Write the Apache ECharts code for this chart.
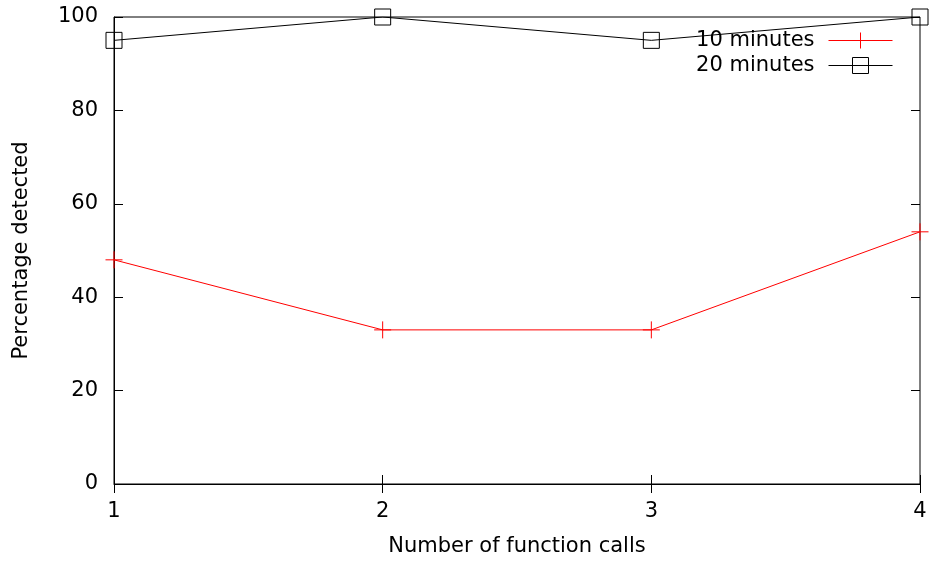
<!DOCTYPE html>
<html>
<head>
<meta charset="utf-8">
<script src="https://cdn.jsdelivr.net/npm/echarts@6/dist/echarts.min.js"></script>
<style>
  html, body { margin: 0; padding: 0; background: #fff; }
  #chart { width: 931px; height: 562px; }
</style>
</head>
<body>
<div id="chart"></div>
<script>
// Detection rate against number of function calls
const functionCalls = [1, 2, 3, 4];
const tenMinutes = [48, 33, 33, 54];
const twentyMinutes = [95, 100, 95, 100];
const yTicks = [0, 20, 40, 60, 80, 100];

const FONT = 'DejaVu Sans';
const FS = 21;
const plusPath = 'path://M0,-10 L0,10 M-10,0 L10,0';

const pairs = (ys) => functionCalls.map((x, i) => [x, ys[i]]);

const chart = echarts.init(document.getElementById('chart'));

const tickStyle = { show: true, inside: true, length: 9, lineStyle: { color: '#000', width: 1 } };

chart.setOption({
  animation: false,
  backgroundColor: '#fff',
  textStyle: { fontFamily: FONT },
  grid: {
    left: 114, right: 11, top: 17, bottom: 75,
    show: true, borderColor: '#000', borderWidth: 1, backgroundColor: 'transparent'
  },
  legend: {
    right: 38, top: 30, orient: 'vertical', align: 'right', padding: 0,
    itemWidth: 64, itemHeight: 20, itemGap: 4,
    lineStyle: { width: 1 },
    itemStyle: { borderWidth: 1 },
    textStyle: { fontFamily: FONT, fontSize: FS, lineHeight: 20, color: '#000', padding: [0, 9, 0, 0] },
    data: ['10 minutes', '20 minutes']
  },
  xAxis: [{
    type: 'value', min: 1, max: 4, interval: 1,
    name: 'Number of function calls', nameLocation: 'middle', nameGap: 52,
    nameTextStyle: { fontFamily: FONT, fontSize: FS, color: '#000' },
    axisLine: { show: true, lineStyle: { color: '#000' } },
    axisTick: tickStyle, splitLine: { show: false },
    axisLabel: { fontFamily: FONT, fontSize: FS, color: '#000', margin: 17 }
  }, {
    type: 'value', min: 1, max: 4, interval: 1, position: 'top',
    axisLine: { show: false }, axisTick: tickStyle,
    splitLine: { show: false }, axisLabel: { show: false }
  }],
  yAxis: [{
    type: 'value', min: yTicks[0], max: yTicks[yTicks.length - 1], interval: 20,
    name: 'Percentage detected', nameLocation: 'middle', nameGap: 82,
    nameTextStyle: { fontFamily: FONT, fontSize: FS, color: '#000' },
    axisLine: { show: true, lineStyle: { color: '#000' } },
    axisTick: tickStyle, splitLine: { show: false },
    axisLabel: { fontFamily: FONT, fontSize: FS, color: '#000', margin: 16 }
  }, {
    type: 'value', min: yTicks[0], max: yTicks[yTicks.length - 1], interval: 20, position: 'right',
    axisLine: { show: false }, axisTick: tickStyle,
    splitLine: { show: false }, axisLabel: { show: false }
  }],
  series: [{
    name: '10 minutes', type: 'line', data: pairs(tenMinutes),
    symbol: plusPath, symbolSize: 17, showAllSymbol: true,
    lineStyle: { color: '#ff0000', width: 1 },
    itemStyle: { color: 'none', borderColor: '#ff0000', borderWidth: 1 },
    emphasis: { disabled: true }
  }, {
    name: '20 minutes', type: 'line', data: pairs(twentyMinutes),
    symbol: 'rect', symbolSize: 16, showAllSymbol: true,
    lineStyle: { color: '#000', width: 1 },
    itemStyle: { color: 'none', borderColor: '#000', borderWidth: 1 },
    emphasis: { disabled: true }
  }]
});
</script>
</body>
</html>
